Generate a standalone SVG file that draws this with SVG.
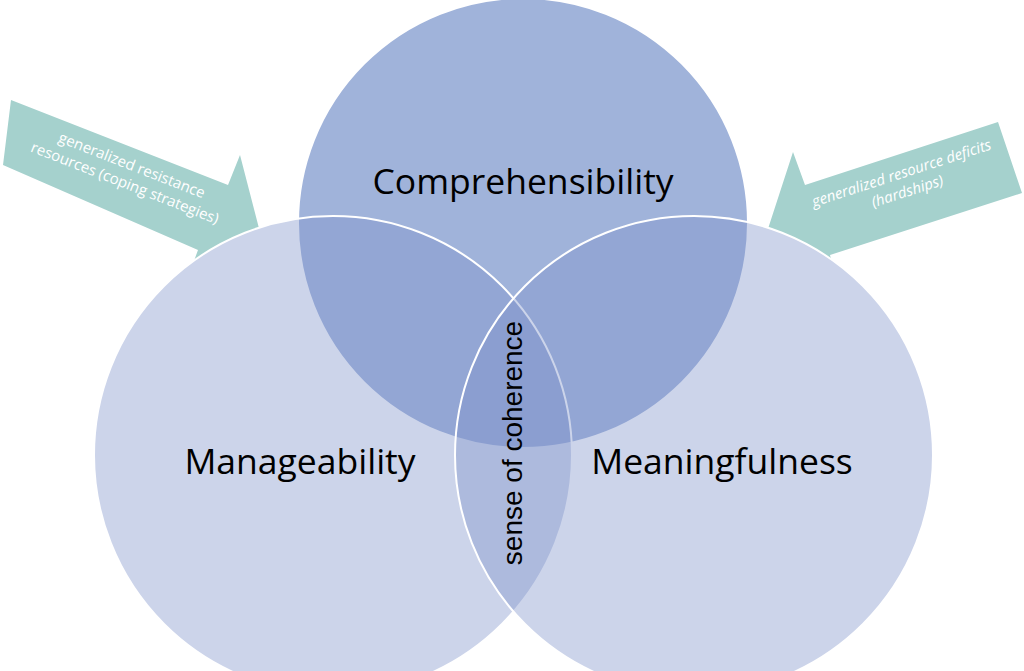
<svg xmlns="http://www.w3.org/2000/svg" width="1024" height="671" viewBox="0 0 1024 671">
<style>
.c{stroke:#fff;stroke-width:2}
.big{font-family:"Open Sans","Noto Sans",sans-serif;font-size:35.5px;fill:#000;text-anchor:middle}
.ar{fill:#a5d1cd}
.at{font-family:"Open Sans","Noto Sans",sans-serif;font-size:15px;fill:#fff;text-anchor:middle}
</style>
<rect width="1024" height="671" fill="#fff"/>
<g id="arrow-left"><polygon class="ar" points="11,100 228,185 240,155 262,240 187,280 198,250 3,165"/>
<g transform="translate(130,170) rotate(21.4)"><text class="at" x="0" y="0">generalized resistance</text><text class="at" x="0" y="19">resources (coping strategies)</text></g></g>
<g id="arrow-right"><polygon class="ar" points="998,122 1022,193 830,255 838,288 765,238 793,152 805,185"/>
<g transform="translate(903,178) rotate(-18)"><text class="at" x="0" y="0" font-style="italic">generalized resource deficits</text><text class="at" x="0" y="19" font-style="italic">(hardships)</text></g></g>
<circle cx="333" cy="455" r="239" fill="#fff"/>
<circle cx="694" cy="455" r="239" fill="#fff"/>
<g id="comprehensibility"><circle class="c" cx="523" cy="223" r="225" fill="#a0b3da"/></g>
<g id="manageability"><circle class="c" cx="333" cy="455" r="239" fill="#7f93cb" fill-opacity="0.4"/></g>
<g id="meaningfulness"><circle class="c" cx="694" cy="455" r="239" fill="#7f93cb" fill-opacity="0.4"/></g>
<text class="big" x="523" y="194">Comprehensibility</text>
<text class="big" x="300" y="474">Manageability</text>
<text class="big" x="722" y="474">Meaningfulness</text>
<text transform="translate(522,443) rotate(-90)" font-family="'Liberation Sans',Arial,sans-serif" font-size="28" text-anchor="middle">sense of coherence</text>
</svg>
